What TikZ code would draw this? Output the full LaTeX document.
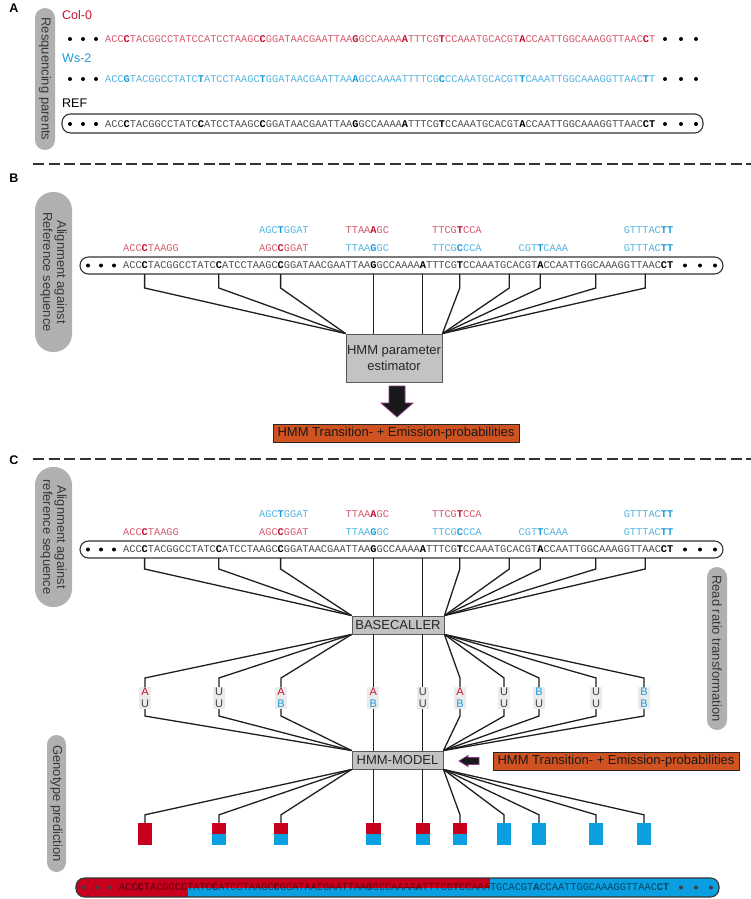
\documentclass[tikz,border=0pt]{standalone}
\usepackage{fontspec}
\setmainfont{Liberation Sans}
\newfontfamily\seqfont{Liberation Mono}
\usepackage{xcolor}
\definecolor{seq-red}{HTML}{C41230}
\definecolor{seq-blue}{HTML}{1A9BD7}
\definecolor{seq-grey}{HTML}{4D4D4D}
\definecolor{pill-grey}{HTML}{B0B0B0}
\definecolor{box-grey}{HTML}{C3C3C3}
\definecolor{call-grey}{HTML}{EBEBEB}
\definecolor{prob-orange}{HTML}{CF5220}
\definecolor{geno-red}{HTML}{C8001E}
\definecolor{geno-blue}{HTML}{0A9FE0}
\definecolor{arrow-purple}{HTML}{8A3C8A}
\usepackage{tikz}

\newcommand{\rsnp}[1]{\textcolor{seq-red}{\textbf{#1}}}
\newcommand{\bsnp}[1]{\textcolor{seq-blue}{\textbf{#1}}}
\newcommand{\ksnp}[1]{\textcolor{black}{\textbf{#1}}}
\newcommand{\refseq}{ACC\ksnp{C}TACGGCCTATC\ksnp{C}ATCCTAAGC\ksnp{C}GGATAACGAATTAA\ksnp{G}GCCAAAA\ksnp{A}TTTCG\ksnp{T}CCAAATGCACGT\ksnp{A}CCAATTGGCAAAGGTTAAC\ksnp{CT}}
\newcommand{\callA}{\textcolor{seq-red}{A}}
\newcommand{\callB}{\textcolor{seq-blue}{B}}
\newcommand{\callU}{\textcolor{black!75}{U}}

\tikzset{
    panel/.style={font=\bfseries\fontsize{12.5}{14}\selectfont},
    lbl/.style={font=\fontsize{12.5}{14}\selectfont, anchor=west, inner sep=0pt},
    seq/.style={font=\seqfont\fontsize{10.3}{12}\selectfont, anchor=west, inner sep=0pt},
    pilltext/.style={rotate=-90, align=center, text=black!78, font=\fontsize{13}{14}\selectfont},
    refbox/.style={draw=black!80, line width=1.1pt, rounded corners=8.5pt, inner sep=0pt},
    procbox/.style={draw=black!65, fill=box-grey, line width=0.9pt, text=black!85, font=\fontsize{13}{16}\selectfont, align=center, inner sep=0pt},
    probbox/.style={draw=black!85, fill=prob-orange, line width=0.9pt, text=black!90, font=\fontsize{13}{14}\selectfont, inner sep=0pt, minimum width=246, minimum height=18},
    callbox/.style={fill=call-grey, align=center, font=\fontsize{11}{12}\selectfont, inner xsep=1.5pt, inner ysep=1pt, minimum width=12},
    genobox/.style={minimum width=14, minimum height=22, inner sep=0pt},
    link/.style={draw=black!88, line width=1.3pt},
    divider/.style={draw=black!80, line width=2.4pt, dash pattern=on 11pt off 4.5pt},
    blockarrow/.style={fill=black!90, draw=arrow-purple, line width=0.8pt},
}

\begin{document}
\begin{tikzpicture}[x=1pt, y=-1pt]

    % Canvas
    \useasboundingbox (0,0) rectangle (751,899);

    % Panel letters and dividers
    \node[panel] (panelA) at (14,8) {A};
    \node[panel] (panelB) at (14,178) {B};
    \node[panel] (panelC) at (14,460) {C};
    \draw[divider] (33,164) -- (751,164);
    \draw[divider] (33,459) -- (751,459);

    % Side pills
    \fill[pill-grey, rounded corners=10pt] (35,8) rectangle (55,150);
    \node[pilltext] (pillA) at (45,79) {Resquencing parents};
    \fill[pill-grey, rounded corners=18pt] (35,192) rectangle (72,352);
    \node[pilltext] (pillB) at (53.5,272) {Alignment against\\Reference sequence};
    \fill[pill-grey, rounded corners=18pt] (35,467) rectangle (72,607);
    \node[pilltext] (pillC) at (53.5,537) {Alignment against\\reference sequence};
    \fill[pill-grey, rounded corners=10pt] (707,567) rectangle (727,730);
    \node[pilltext] (pillRatio) at (717,648.5) {Read ratio transformation};
    \fill[pill-grey, rounded corners=9.5pt] (47,735) rectangle (66,872);
    \node[pilltext] (pillGeno) at (56.5,803.5) {Genotype prediction};

    % Parents
    \node[lbl, text=seq-red] (col0) at (62,15) {Col-0};
    \foreach \x in {70,83,96,665,681,696} \fill (\x,39) circle (2);
    \node[seq, text=seq-red!70!white] (col0seq) at (105,39) {ACC\rsnp{C}TACGGCCTATCCATCCTAAGC\rsnp{C}GGATAACGAATTAA\rsnp{G}GCCAAAA\rsnp{A}TTTCG\rsnp{T}CCAAATGCACGT\rsnp{A}CCAATTGGCAAAGGTTAAC\rsnp{C}T};
    \node[lbl, text=seq-blue] (ws2) at (62,58) {Ws-2};
    \foreach \x in {70,83,96,665,681,696} \fill (\x,79) circle (2);
    \node[seq, text=seq-blue!75!white] (ws2seq) at (105,79) {ACC\bsnp{G}TACGGCCTATC\bsnp{T}ATCCTAAGC\bsnp{T}GGATAACGAATTAA\bsnp{A}GCCAAAATTTTCG\bsnp{C}CCAAATGCACGT\bsnp{T}CAAATTGGCAAAGGTTAAC\bsnp{T}T};
    \node[lbl] (ref) at (62,103) {REF};
    \node[refbox, minimum width=641, minimum height=19] (a-ref) at (382.5,123.5) {};
    \foreach \x in {70,83,96,665,681,696} \fill (\x,124) circle (2);
    \node[seq, text=seq-grey] (a-refseq) at (105,124) {\refseq};

    % Reads on the reference (B and C)
    \foreach \s/\dy in {b/0, c/284} {
        \begin{scope}[yshift=-\dy pt]
            \node[refbox, minimum width=643, minimum height=17] (\s-ref) at (401.5,265.5) {};
            \foreach \x in {88,101,114,685,700,715} \fill (\x,265.5) circle (2);
            \node[seq, text=seq-grey] (\s-refseq) at (123,265.5) {\refseq};
            \node[seq, text=seq-red!70!white] (\s-r1) at (123,248) {ACC\rsnp{C}TAAGG};
            \node[seq, text=seq-red!70!white] (\s-r2) at (259,248) {AGC\rsnp{C}GGAT};
            \node[seq, text=seq-blue!75!white] (\s-r3) at (259,230) {AGC\bsnp{T}GGAT};
            \node[seq, text=seq-blue!75!white] (\s-r4) at (345.5,248) {TTAA\bsnp{G}GC};
            \node[seq, text=seq-red!70!white] (\s-r5) at (345.5,230) {TTAA\rsnp{A}GC};
            \node[seq, text=seq-blue!75!white] (\s-r6) at (432,248) {TTCG\bsnp{C}CCA};
            \node[seq, text=seq-red!70!white] (\s-r7) at (432,230) {TTCG\rsnp{T}CCA};
            \node[seq, text=seq-blue!75!white] (\s-r8) at (518.5,248) {CGT\bsnp{T}CAAA};
            \node[seq, text=seq-blue!75!white] (\s-r9) at (623.6,248) {GTTTAC\bsnp{TT}};
            \node[seq, text=seq-blue!75!white] (\s-r10) at (623.6,230) {GTTTAC\bsnp{TT}};
            \foreach \i/\x in {1/144.6,2/218.8,3/280.6,4/373.3,5/422.8,6/459.8,7/509.3,8/540.2,9/595.8,10/645.2}
                \coordinate (\s-s\i) at (\x,274);
        \end{scope}
    }

    % Parameter estimation
    \node[procbox, minimum width=96, minimum height=48] (est) at (394,358) {HMM parameter\\estimator};
    \foreach \i in {1,2,3} \draw[link] (b-s\i) -- ++(0,14) -- (est.north west);
    \foreach \i in {4,5} \draw[link] (b-s\i) -- (b-s\i |- est.north);
    \foreach \i in {6,...,10} \draw[link] (b-s\i) -- ++(0,14) -- (est.north east);
    \filldraw[blockarrow] (389,386) -- (405,386) -- (405,403) -- (413,403) -- (397,417) -- (381,403) -- (389,403) -- cycle;
    \node[probbox] (prob1) at (396,433) {HMM Transition- + Emission-probabilities};

    % Base calling
    \node[procbox, minimum width=92, minimum height=18] (bc) at (398,625) {BASECALLER};
    \foreach \i in {1,2,3} \draw[link] (c-s\i) -- ++(0,11) -- (bc.north west);
    \foreach \i in {4,5} \draw[link] (c-s\i) -- (c-s\i |- bc.north);
    \foreach \i in {6,...,10} \draw[link] (c-s\i) -- ++(0,11) -- (bc.north east);
    \foreach \i/\x/\up/\dn in {1/145/\callA/\callU, 2/219/\callU/\callU, 3/281/\callA/\callB, 4/373.3/\callA/\callB, 5/422.8/\callU/\callU, 6/460/\callA/\callB, 7/504/\callU/\callU, 8/539/\callB/\callU, 9/596/\callU/\callU, 10/644/\callB/\callB}
        \node[callbox] (call\i) at (\x,698) {\up\\\dn};
    \foreach \i in {1,2,3} \draw[link] (bc.south west) -- ([yshift=9pt]call\i.north) -- (call\i.north);
    \foreach \i in {4,5} \draw[link] (call\i |- bc.south) -- (call\i.north);
    \foreach \i in {6,...,10} \draw[link] (bc.south east) -- ([yshift=9pt]call\i.north) -- (call\i.north);

    % Genotyping
    \node[procbox, minimum width=91, minimum height=18] (hmm) at (397.5,760) {HMM-MODEL};
    \foreach \i in {1,2,3} \draw[link] (call\i.south) -- ([yshift=-7pt]call\i.south) -- (hmm.north west);
    \foreach \i in {4,5} \draw[link] (call\i.south) -- (call\i |- hmm.north);
    \foreach \i in {6,...,10} \draw[link] (call\i.south) -- ([yshift=-7pt]call\i.south) -- (hmm.north east);
    \filldraw[blockarrow] (459,761) -- (468,755.5) -- (468,757.5) -- (479,757.5) -- (479,764.5) -- (468,764.5) -- (468,766.5) -- cycle;
    \node[probbox] (prob2) at (616,761) {HMM Transition- + Emission-probabilities};
    \foreach \i/\x/\top/\bot in {1/145/geno-red/geno-red, 2/219/geno-red/geno-blue, 3/281/geno-red/geno-blue, 4/373.3/geno-red/geno-blue, 5/422.8/geno-red/geno-blue, 6/460/geno-red/geno-blue, 7/504/geno-blue/geno-blue, 8/539/geno-blue/geno-blue, 9/596/geno-blue/geno-blue, 10/644/geno-blue/geno-blue} {
        \node[genobox] (geno\i) at (\x,834) {};
        \fill[\top] (geno\i.north west) rectangle (geno\i.east);
        \fill[\bot] (geno\i.west) rectangle (geno\i.south east);
    }
    \foreach \i in {1,2,3} \draw[link] (hmm.south west) -- ([yshift=8pt]geno\i.north) -- (geno\i.north);
    \foreach \i in {4,5} \draw[link] (geno\i |- hmm.south) -- (geno\i.north);
    \foreach \i in {6,...,10} \draw[link] (hmm.south east) -- ([yshift=8pt]geno\i.north) -- (geno\i.north);

    % Genotype mosaic
    \begin{scope}
        \clip[rounded corners=9.5pt] (76,878) rectangle (719,897);
        \fill[geno-blue] (76,878) rectangle (719,897);
        \fill[geno-red] (76,878) rectangle (490,887.5);
        \fill[geno-red] (76,887.5) rectangle (188,897);
    \end{scope}
    \draw[refbox] (76,878) rectangle (719,897);
    \foreach \x in {84,98,110,681,696,711} \fill[black!75] (\x,887.5) circle (2);
    \node[seq, text=black, text opacity=0.55] (mosaic) at (119,887.5) {\refseq};

\end{tikzpicture}
\end{document}
